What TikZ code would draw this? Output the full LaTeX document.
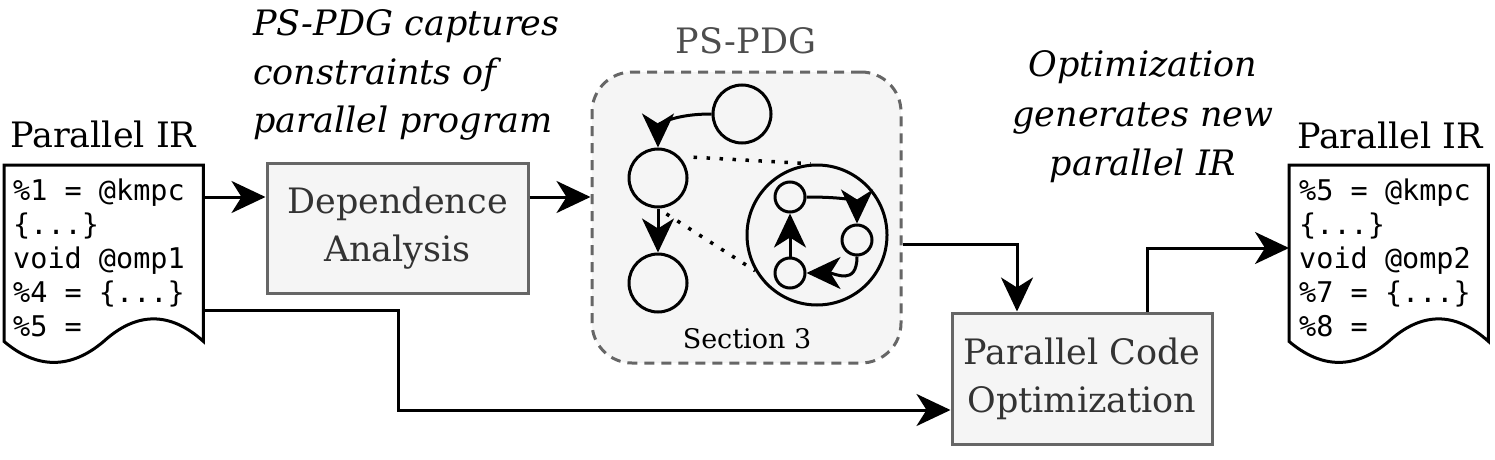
\documentclass[tikz,border=0pt]{standalone}
\usepackage{fontspec}
\setmainfont{DejaVu Serif}
\setmonofont{DejaVu Sans Mono}
\usetikzlibrary{arrows.meta,calc}
\definecolor{boxfill}{HTML}{F5F5F5}
\definecolor{boxline}{HTML}{666666}
\definecolor{boxtext}{HTML}{333333}
\definecolor{titlegrey}{HTML}{4D4D4D}
\begin{document}
\begin{tikzpicture}[x=1pt,y=-1pt,
  arr/.style={line width=3pt,-{Stealth[length=34pt,width=32pt,inset=10pt]}},
  procbox/.style={draw=boxline,fill=boxfill,line width=3pt,text=boxtext,
    font=\fontsize{35}{48}\selectfont,align=center,minimum width=261pt,
    minimum height=130pt,inner sep=0pt},
  container/.style={draw=boxline,fill=boxfill,line width=3pt,dash pattern=on 10pt off 7pt,
    rounded corners=40pt,minimum width=309pt,minimum height=291pt,inner sep=0pt},
  gnode/.style={circle,draw,line width=3pt,minimum size=58pt,inner sep=0pt},
  bignode/.style={circle,draw,line width=3pt,minimum size=140pt,inner sep=0pt},
  snode/.style={circle,draw,line width=3pt,minimum size=30pt,inner sep=0pt},
  dotline/.style={line width=3.5pt,dash pattern=on 3.5pt off 9.5pt},
  docarea/.style={rectangle,draw=none,inner sep=0pt,minimum width=199pt,minimum height=176pt},
  docline/.style={line width=3pt,line join=miter},
  code/.style={inner sep=0pt,anchor=base west,font=\ttfamily\fontsize{28.5}{34}\selectfont},
  title/.style={inner sep=0pt,anchor=base,font=\fontsize{35}{42}\selectfont},
  annot/.style={inner sep=0pt,anchor=base,font=\itshape\fontsize{35}{42}\selectfont},
]
\useasboundingbox (0,0) rectangle (1495,460);

% ---------- left document ----------
\node[docarea,anchor=north west] (ir1) at (4,165) {};
\draw[docline] (ir1.south west) -- (ir1.north west) -- (ir1.north east) -- (ir1.south east)
  .. controls +(-33,-30) and +(33,-30) .. ($(ir1.south west)!0.5!(ir1.south east)$)
  .. controls +(-33,28) and +(33,28) .. (ir1.south west) -- cycle;
\node[title,anchor=base west] (t1) at (10,147) {Parallel IR};
\node[code] (a1) at (13,200) {\%1 = @kmpc};
\node[code] (a2) at (13,234) {\{...\}};
\node[code] (a3) at (13,268) {void @omp1};
\node[code] (a4) at (13,302) {\%4 = \{...\}};
\node[code] (a5) at (13,336) {\%5 =};

% ---------- right document ----------
\node[docarea,anchor=north west] (ir2) at (1289,165) {};
\draw[docline] (ir2.south west) -- (ir2.north west) -- (ir2.north east) -- (ir2.south east)
  .. controls +(-33,-30) and +(33,-30) .. ($(ir2.south west)!0.5!(ir2.south east)$)
  .. controls +(-33,28) and +(33,28) .. (ir2.south west) -- cycle;
\node[title] (t2) at (1390,148) {Parallel IR};
\node[code] (b1) at (1299,200) {\%5 = @kmpc};
\node[code] (b2) at (1299,234) {\{...\}};
\node[code] (b3) at (1299,268) {void @omp2};
\node[code] (b4) at (1299,302) {\%7 = \{...\}};
\node[code] (b5) at (1299,336) {\%8 =};

% ---------- boxes ----------
\node[procbox] (dep) at (397.5,228) {Dependence\\Analysis};
\node[procbox,minimum width=260pt,minimum height=131pt] (opt) at (1082,378.5) {Parallel Code\\Optimization};

% ---------- annotations ----------
\node[annot,anchor=base west] (n1) at (253,36) {PS-PDG captures};
\node[annot,anchor=base west] (n2) at (253,84) {constraints of};
\node[annot,anchor=base west] (n3) at (253,132) {parallel program};
\node[annot] (m1) at (1143,77) {Optimization};
\node[annot] (m2) at (1143,126) {generates new};
\node[annot] (m3) at (1143,175) {parallel IR};

% ---------- PS-PDG container ----------
\node[container] (ps) at (746.5,217.5) {};
\node[title,text=titlegrey] (pst) at (746,54) {PS-PDG};
\node[title,font=\fontsize{27}{32}\selectfont] (sec) at (747,348) {Section 3};

\node[gnode] (c1) at (742,114) {};
\node[gnode] (c2) at (658,178) {};
\node[gnode] (c3) at (658,283) {};
\node[bignode] (big) at (817,235) {};
\node[snode] (s1) at (790,197) {};
\node[snode] (s2) at (857,240) {};
\node[snode] (s3) at (790,273) {};

\draw[arr] (c1.west) .. controls +(-40,0) and +(0,-22) .. (c2.north);
\draw[arr] (c2.south) -- (c3.north);
\draw[dotline,shorten <=14pt] (c2.45) -- (big.95);
\draw[dotline,shorten <=10pt] (c2.south) -- (big.210);
\draw[arr] (s1.east) .. controls +(42,0) and +(0,-22) .. (s2.north);
\draw[arr] (s2.south) .. controls +(0,30) and +(28,0) .. (s3.east);
\draw[arr] (s3.north) -- (s1.south);

% ---------- connectors ----------
\coordinate (y1) at (0,197);
\coordinate (y2) at (0,244);
\coordinate (y3) at (0,310);
\coordinate (y4) at (0,410);
\coordinate (y5) at (0,248);
\coordinate (x1) at (398,0);
\coordinate (x2) at (1017,0);
\coordinate (x3) at (1147,0);
\draw[arr] (ir1.east |- y1) -- (dep.west |- y1);
\draw[arr] (dep.east |- y1) -- (ps.west |- y1);
\draw[arr] (ps.east |- y2) -| (opt.north -| x2);
\draw[arr] (ir1.east |- y3) -| (x1 |- y4) -- (opt.west |- y4);
\draw[arr] (opt.north -| x3) |- (ir2.west |- y5);
\end{tikzpicture}
\end{document}
